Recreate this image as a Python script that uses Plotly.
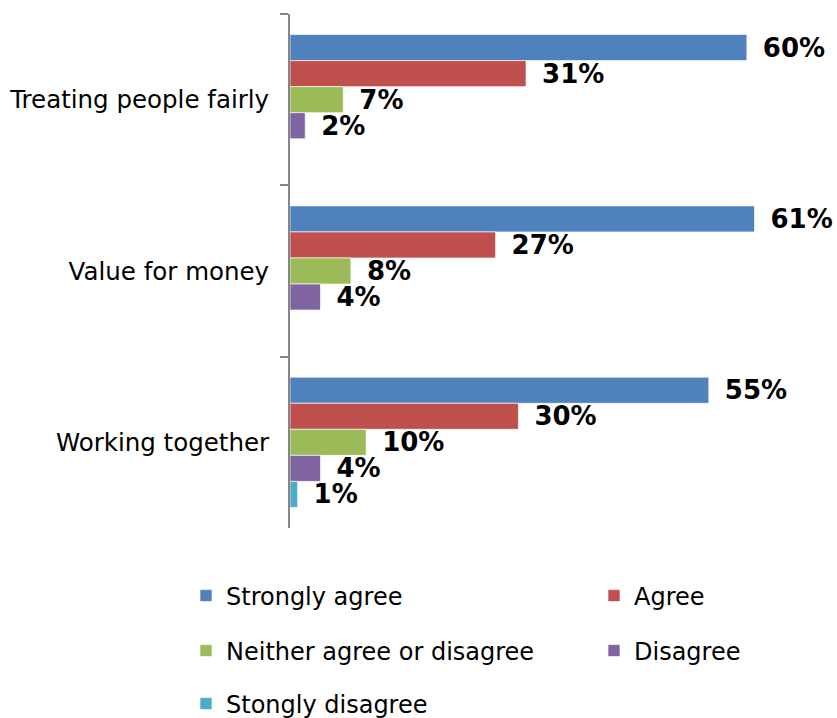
import plotly.graph_objects as go

# Survey statements (top to bottom) and response categories
statements = ["Treating people fairly", "Value for money", "Working together"]
responses = ["Strongly agree", "Agree", "Neither agree or disagree", "Disagree", "Stongly disagree"]

# Percentage of respondents per response, one list per response category
strongly_agree = [60, 61, 55]
agree = [31, 27, 30]
neither = [7, 8, 10]
disagree = [2, 4, 4]
strongly_disagree = [None, None, 1]

series = [strongly_agree, agree, neither, disagree, strongly_disagree]
colors = ["#4F81BD", "#C0504D", "#9BBB59", "#8064A2", "#4BACC6"]

# Legend laid out as a two-column grid below the plot (pixel positions in the page)
legend_cols_px = [186, 594, 186, 594, 186]
legend_rows_px = [596, 596, 651, 651, 704]
legend_ids = ["legend", "legend2", "legend3", "legend4", "legend5"]

FONT = "DejaVu Sans"
W, H = 837, 718

fig = go.Figure()
for name, vals, col, lg in zip(responses, series, colors, legend_ids):
    fig.add_trace(go.Bar(
        y=statements,
        x=vals,
        name=name,
        orientation="h",
        marker=dict(color=col, line=dict(color="rgba(255,255,255,0.65)", width=1)),
        text=[f"\u2002{v}%" if v is not None else "" for v in vals],
        textposition="outside",
        textfont=dict(family=FONT, size=26, color="black", weight="bold"),
        constraintext="none",
        cliponaxis=False,
        legend=lg,
        showlegend=True,
        hoverinfo="skip",
    ))

legend_layouts = {}
for lg, lx, ly in zip(legend_ids, legend_cols_px, legend_rows_px):
    legend_layouts[lg] = dict(
        orientation="h",
        xref="container",
        yref="container",
        x=lx / W,
        y=1 - ly / H,
        xanchor="left",
        yanchor="middle",
        font=dict(family=FONT, size=24, color="black"),
        bgcolor="rgba(0,0,0,0)",
    )

fig.update_layout(
    width=W,
    height=H,
    showlegend=True,
    margin=dict(l=290, r=14, t=14, b=190, autoexpand=False),
    paper_bgcolor="white",
    plot_bgcolor="white",
    barmode="group",
    bargap=0.24,
    bargroupgap=0,
    font=dict(family=FONT, size=24, color="black"),
    xaxis=dict(
        range=[0, 70],
        visible=False,
        showgrid=False,
        zeroline=False,
    ),
    yaxis=dict(
        categoryorder="array",
        categoryarray=statements,
        autorange="reversed",
        showline=True,
        linecolor="#868686",
        linewidth=2,
        ticks="outside",
        ticklen=8,
        tickwidth=2,
        tickcolor="#868686",
        tickson="boundaries",
        ticklabelstandoff=14,
        tickfont=dict(family=FONT, size=24.5, color="black"),
        showgrid=False,
        zeroline=False,
    ),
    **legend_layouts,
)

fig.write_html("out.html")
